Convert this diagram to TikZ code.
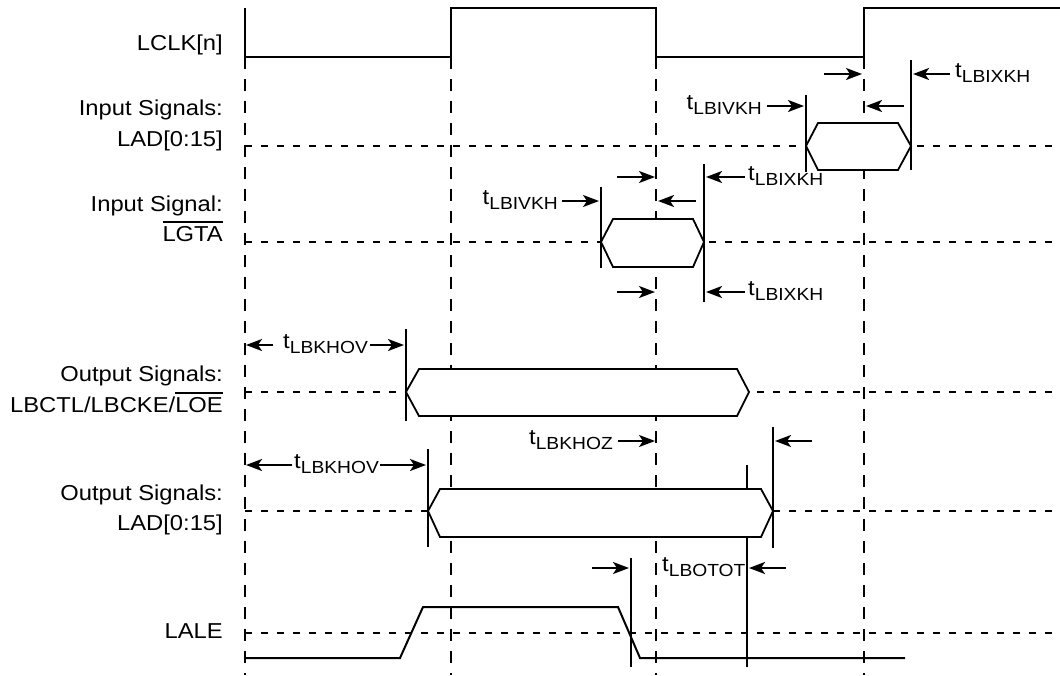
\documentclass[tikz,border=0pt]{standalone}
\usepackage{fontspec}
\setmainfont{Liberation Sans}[FakeStretch=1.1]
\usetikzlibrary{arrows.meta}
\newcommand{\tlab}[1]{t\raisebox{-5pt}{\fontsize{17.5}{17.5}\selectfont #1}}
\newcommand{\ovl}[1]{\leavevmode\vbox{\hrule height 1.6pt\kern 3pt\hbox{#1}}}
\newcommand{\tarrow}[4]{\coordinate (#1s) at (#2,#4); \coordinate (#1e) at (#3,#4); \draw[tarr] (#1s) -- (#1e);}
\begin{document}
\begin{tikzpicture}[x=1pt,y=-1pt,
  wave/.style={line width=2pt, line join=miter},
  vdash/.style={line width=2pt, dash pattern=on 12pt off 10pt},
  hdash/.style={line width=1.8pt, dash pattern=on 7pt off 9pt},
  hexa/.style={line width=1.8pt, fill=white, line join=miter},
  mline/.style={line width=2pt},
  tarr/.style={line width=2pt, -{Stealth[length=16pt,width=12pt,inset=4pt]}},
  sig/.style={font=\fontsize{21.6}{26}\selectfont, inner sep=0pt, anchor=base east},
  tl/.style={font=\fontsize{21.6}{26}\selectfont, inner sep=0pt},
]
\useasboundingbox (0,0) rectangle (1060,675);

% clock edge references
\coordinate (e0) at (245,57);
\coordinate (e1) at (451,57);
\coordinate (e2) at (656,57);
\coordinate (e3) at (864,57);

% vertical dashed lines
\foreach \n in {e0,e1,e2,e3} \draw[vdash] (\n) -- (\n |- 0,675);

% horizontal dashed lines (signal levels)
\draw[hdash] (245,146) -- (1060,146);
\draw[hdash] (245,242) -- (1060,242);
\draw[hdash] (245,392) -- (1060,392);
\draw[hdash] (245,511) -- (1060,511);
\draw[hdash] (245,633) -- (1060,633);

% clock
\draw[wave] (245,8) -- (e0) -- (e1) -- (451,8) -- (656,8) -- (e2) -- (e3) -- (864,8) -- (1060,8);

% data windows
\draw[hexa] (806,146) -- (818,123) -- (898,123) -- (911,146) -- (898,170) -- (818,170) -- cycle;
\draw[hexa] (601,242) -- (613,219) -- (693,219) -- (704,242) -- (693,267) -- (613,267) -- cycle;
\draw[hexa] (406,392) -- (419,369) -- (737,369) -- (749,392) -- (737,416) -- (419,416) -- cycle;
\draw[hexa] (428,511) -- (440,489) -- (761,489) -- (773,511) -- (761,537) -- (440,537) -- cycle;

% measurement lines
\draw[mline] (806,95) -- (806,172);
\draw[mline] (911,60) -- (911,170);
\draw[mline] (601,187) -- (601,268);
\draw[mline] (704,164) -- (704,302);
\draw[mline] (406,329) -- (406,421);
\draw[mline] (428,449) -- (428,547);
\draw[mline] (773,427) -- (773,548);
\draw[mline] (747,465) -- (747,489);
\draw[mline] (747,537) -- (747,667);
\draw[mline] (631,558) -- (631,667);

% LALE
\draw[wave] (245,658) -- (400,658) -- (423,607) -- (618,607) -- (640,658) -- (905,658);

% timing arrows
\tarrow{a1}{824}{862}{74}
\tarrow{a2}{904}{866}{106}
\tarrow{a3}{950}{913}{74}
\tarrow{a4}{767}{804}{106}
\tarrow{a5}{617}{655}{177}
\tarrow{a6}{696}{658}{201}
\tarrow{a7}{745}{706}{177}
\tarrow{a8}{562}{599}{201}
\tarrow{a9}{617}{655}{292}
\tarrow{a10}{745}{706}{292}
\tarrow{a11}{273}{246}{345}
\tarrow{a12}{370}{404}{345}
\tarrow{a13}{292}{246}{465}
\tarrow{a14}{380}{426}{465}
\tarrow{a15}{618}{655}{441}
\tarrow{a16}{812}{775}{441}
\tarrow{a17}{592}{629}{568}
\tarrow{a18}{786}{749}{568}

% timing labels
\node[tl, anchor=base west] (l1) at (955,77) {\tlab{LBIXKH}};
\node[tl, anchor=base east] (l2) at (762,109) {\tlab{LBIVKH}};
\node[tl, anchor=base west] (l3) at (748,180) {\tlab{LBIXKH}};
\node[tl, anchor=base east] (l4) at (558,204) {\tlab{LBIVKH}};
\node[tl, anchor=base west] (l5) at (748,295) {\tlab{LBIXKH}};
\node[tl, anchor=base west] (l6) at (283,348) {\tlab{LBKHOV}};
\node[tl, anchor=base west] (l7) at (294,468) {\tlab{LBKHOV}};
\node[tl, anchor=base east] (l8) at (613,444) {\tlab{LBKHOZ}};
\node[tl, anchor=base west] (l9) at (662,571) {\tlab{LBOTOT}};

% signal names
\node[sig] (s1) at (223,50) {LCLK[n]};
\node[sig] (s2a) at (223,115) {Input Signals:};
\node[sig] (s2b) at (223,146) {LAD[0:15]};
\node[sig] (s3a) at (223,211) {Input Signal:};
\node[sig] (s3b) at (223,241) {\ovl{LGTA}};
\node[sig] (s4a) at (223,381) {Output Signals:};
\node[sig] (s4b) at (223,412) {LBCTL/LBCKE/\ovl{LOE}};
\node[sig] (s5a) at (223,500) {Output Signals:};
\node[sig] (s5b) at (223,530) {LAD[0:15]};
\node[sig] (s6) at (223,638) {LALE};
\end{tikzpicture}
\end{document}
